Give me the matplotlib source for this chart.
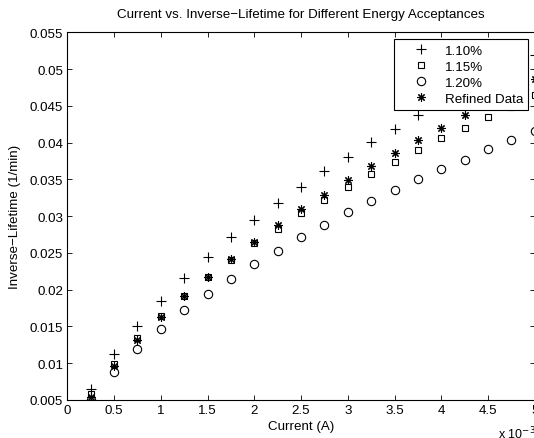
import matplotlib
matplotlib.use("Agg")
import matplotlib.pyplot as plt
from matplotlib.ticker import FixedLocator, FuncFormatter

plt.rcParams['font.family'] = ['Liberation Sans', 'DejaVu Sans']

current = [0.25e-3 * k for k in range(1, 21)]

acc_110 = [0.0065, 0.0112, 0.0151, 0.0185, 0.0216, 0.0244, 0.0271, 0.0295, 0.0318, 0.0340,
           0.0361, 0.0381, 0.0401, 0.0418, 0.0437, 0.0454, 0.0470, 0.0487, 0.0503, 0.0519]
acc_115 = [0.0058, 0.0099, 0.0134, 0.0164, 0.0192, 0.0217, 0.0241, 0.0263, 0.0283, 0.0304,
           0.0322, 0.0340, 0.0357, 0.0374, 0.0390, 0.0406, 0.0420, 0.0435, 0.0449, 0.0465]
acc_120 = [0.0050, 0.0088, 0.0120, 0.0147, 0.0172, 0.0194, 0.0215, 0.0235, 0.0253, 0.0272,
           0.0288, 0.0305, 0.0320, 0.0335, 0.0350, 0.0364, 0.0377, 0.0391, 0.0403, 0.0416]
refined = [0.0054, 0.0096, 0.0131, 0.0163, 0.0191, 0.0217, 0.0242, 0.0265, 0.0288, 0.0310,
           0.0329, 0.0349, 0.0368, 0.0386, 0.0403, 0.0420, 0.0438, 0.0455, 0.0471, 0.0486]

series_labels = ['1.10%', '1.15%', '1.20%', 'Refined Data']
x_ticks = [0, 0.5e-3, 1e-3, 1.5e-3, 2e-3, 2.5e-3, 3e-3, 3.5e-3, 4e-3, 4.5e-3, 5e-3]
y_ticks = [0.005, 0.01, 0.015, 0.02, 0.025, 0.03, 0.035, 0.04, 0.045, 0.05, 0.055]

FS = 9.6

fig = plt.figure(figsize=(5.34, 4.39), dpi=100)
ax = fig.add_axes([0.126, 0.0866, 0.8755, 0.8376])

ax.plot(current, acc_110, linestyle='none', marker='+', markersize=7, markeredgewidth=0.8,
        color='black', label=series_labels[0])
ax.plot(current, acc_115, linestyle='none', marker='s', markersize=4.8, markeredgewidth=0.8,
        markerfacecolor='none', color='black', label=series_labels[1])
ax.plot(current, acc_120, linestyle='none', marker='o', markersize=6, markeredgewidth=0.8,
        markerfacecolor='none', color='black', label=series_labels[2])
ax.plot(current, refined, linestyle='none', marker=(8, 2, 0), markersize=6, markeredgewidth=0.8,
        color='black', label=series_labels[3])

ax.set_xlim(0, 5e-3)
ax.set_ylim(0.005, 0.055)
ax.xaxis.set_major_locator(FixedLocator(x_ticks))
ax.yaxis.set_major_locator(FixedLocator(y_ticks))
ax.xaxis.set_major_formatter(FuncFormatter(lambda v, p: f"{v*1e3:g}"))
ax.yaxis.set_major_formatter(FuncFormatter(lambda v, p: f"{v:g}"))
ax.tick_params(direction='in', length=3.5, width=0.6, top=True, right=True,
               labelsize=FS, pad=3)
for s in ax.spines.values():
    s.set_linewidth(0.8)

ax.set_title('Current vs. Inverse\u2212Lifetime for Different Energy Acceptances',
             fontsize=FS, pad=11)
ax.set_xlabel('Current (A)', fontsize=FS, labelpad=3)
ax.set_ylabel('Inverse\u2212Lifetime (1/min)', fontsize=FS, labelpad=6)
fig.text(0.933, -0.008, r'x 10$^{-3}$', fontsize=9, ha='left', va='bottom')

leg = ax.legend(loc='upper right', bbox_to_anchor=(0.986, 0.982), fontsize=FS,
                frameon=True, fancybox=False, edgecolor='black', framealpha=1,
                borderpad=0.4, labelspacing=0.28, handlelength=3.3, handletextpad=0.1,
                borderaxespad=0, numpoints=1)
leg.get_frame().set_linewidth(0.8)

fig.savefig('out.png', dpi=100)
